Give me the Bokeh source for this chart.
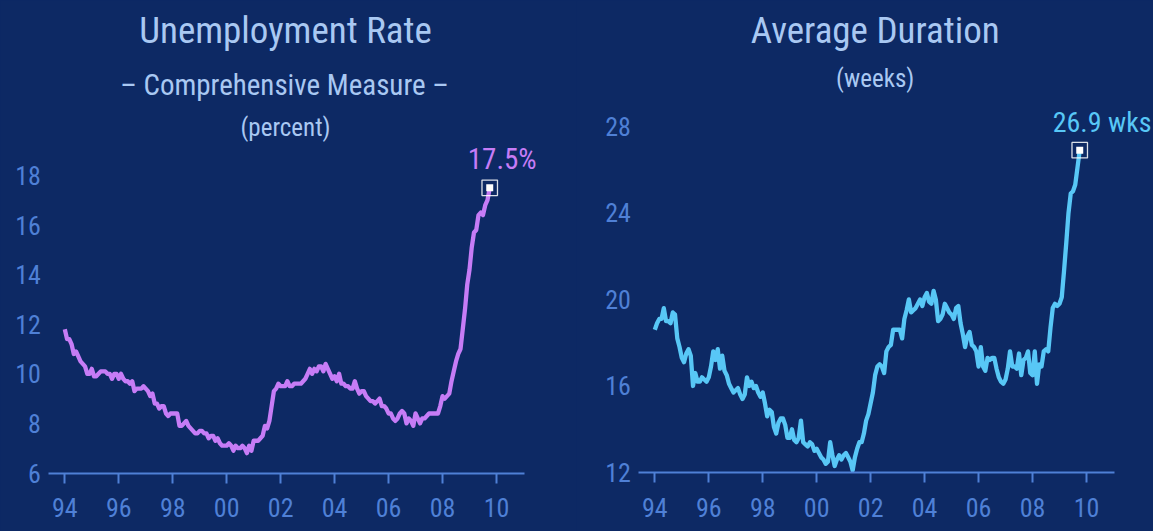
import pandas as pd
from bokeh.plotting import figure
from bokeh.layouts import row
from bokeh.models import Range1d, FixedTicker, Label, GlobalInlineStyleSheet
from bokeh.embed import file_html
from bokeh.resources import INLINE

# ---------------- data (monthly, Jan 1994 - Oct 2009) ----------------
start_month = "1994-01"

u6_rate = [
    11.8, 11.4, 11.4, 11.2, 10.8, 10.9, 10.7, 10.5, 10.4, 10.3, 10.0, 10.0,
    10.2, 9.9, 9.9, 10.0, 10.1, 10.1, 10.1, 10.0, 10.0, 9.8, 10.0, 10.0,
    9.8, 10.0, 9.8, 9.7, 9.7, 9.6, 9.7, 9.3, 9.4, 9.4, 9.4, 9.5,
    9.4, 9.3, 9.1, 9.2, 8.8, 8.8, 8.6, 8.7, 8.7, 8.4, 8.3, 8.4,
    8.4, 8.4, 8.4, 7.9, 7.9, 8.0, 8.1, 7.9, 7.8, 7.7, 7.6, 7.6,
    7.7, 7.7, 7.6, 7.6, 7.4, 7.5, 7.5, 7.3, 7.4, 7.2, 7.1, 7.1,
    7.1, 7.2, 7.1, 6.9, 7.1, 7.0, 7.0, 7.1, 7.0, 6.8, 7.1, 6.9,
    7.3, 7.3, 7.3, 7.4, 7.5, 7.9, 7.8, 8.1, 8.7, 9.3, 9.4, 9.6,
    9.5, 9.5, 9.5, 9.7, 9.5, 9.5, 9.6, 9.6, 9.6, 9.6, 9.7, 9.8,
    10.0, 10.2, 10.0, 10.2, 10.1, 10.3, 10.3, 10.1, 10.4, 10.2, 10.0, 9.8,
    9.9, 9.7, 10.0, 9.6, 9.6, 9.5, 9.5, 9.4, 9.4, 9.7, 9.4, 9.2,
    9.3, 9.3, 9.1, 9.0, 8.9, 8.9, 8.8, 8.9, 9.0, 8.7, 8.7, 8.6,
    8.4, 8.4, 8.2, 8.1, 8.2, 8.4, 8.5, 8.4, 8.0, 8.2, 8.1, 7.9,
    8.4, 8.2, 8.0, 8.2, 8.2, 8.3, 8.4, 8.4, 8.4, 8.4, 8.4, 8.7,
    9.1, 9.0, 9.1, 9.2, 9.7, 10.1, 10.5, 10.8, 11.0, 11.8, 12.6, 13.6,
    14.2, 15.1, 15.7, 15.8, 16.4, 16.5, 16.4, 16.8, 17.0, 17.5,
]

avg_duration = [
    18.6, 18.9, 19.1, 19.1, 19.6, 19.0, 19.0, 18.9, 19.4, 19.3, 18.2, 17.8,
    17.3, 17.1, 17.5, 17.7, 17.4, 16.0, 16.6, 16.2, 16.2, 16.4, 16.3, 16.2,
    16.4, 16.9, 17.6, 17.2, 17.7, 16.8, 17.4, 16.7, 16.5, 16.1, 15.9, 15.7,
    15.8, 15.9, 15.6, 15.4, 15.6, 16.4, 16.0, 16.2, 15.9, 16.0, 15.7, 15.5,
    15.7, 15.2, 14.6, 14.9, 14.8, 14.1, 13.8, 14.3, 14.5, 14.5, 14.2, 13.6,
    13.6, 14.0, 13.5, 13.4, 13.6, 14.4, 13.4, 13.3, 13.2, 13.4, 13.3, 13.0,
    13.1, 12.9, 12.7, 12.6, 12.4, 12.5, 13.4, 12.8, 12.3, 12.6, 12.8, 12.6,
    12.8, 12.9, 12.7, 12.5, 12.1, 12.7, 13.1, 13.4, 13.4, 13.8, 14.4, 14.7,
    15.2, 15.7, 16.5, 16.9, 17.0, 16.9, 16.6, 17.6, 17.8, 17.9, 18.6, 18.6,
    18.6, 18.6, 18.2, 19.1, 19.5, 20.0, 19.4, 19.5, 19.6, 19.8, 20.0, 19.7,
    20.1, 20.3, 19.9, 19.8, 20.4, 20.0, 19.0, 19.1, 19.3, 19.8, 19.6, 19.4,
    19.3, 19.1, 19.6, 19.7, 18.9, 18.4, 17.8, 18.3, 18.5, 17.9, 17.8, 17.6,
    16.9, 17.8, 16.9, 16.7, 17.3, 17.2, 17.3, 17.3, 16.8, 16.4, 16.2, 16.1,
    16.3, 16.8, 17.6, 16.9, 16.9, 16.8, 17.5, 16.5, 17.2, 17.3, 17.6, 16.6,
    16.5, 17.6, 16.1, 17.0, 16.9, 17.6, 17.7, 17.6, 18.7, 19.6, 19.8, 19.7,
    19.8, 20.1, 21.3, 22.6, 24.0, 24.9, 25.0, 25.3, 26.1, 26.9,
]

tick_years = [1994, 1996, 1998, 2000, 2002, 2004, 2006, 2008, 2010]
tick_labels = ["94", "96", "98", "00", "02", "04", "06", "08", "10"]
u6_yticks = [6, 8, 10, 12, 14, 16, 18]
dur_yticks = [12, 16, 20, 24, 28]

# ---------------- style ----------------
FONT = "'Liberation Sans Narrow', 'Roboto Condensed', 'Roboto', sans-serif"
BG = "#0d2964"
TITLE_C = "#a9c8f2"
AXIS_C = "#4f80d6"
VIOLET = "#c67cf6"
CYAN = "#58c7f6"

AXIS_START, AXIS_END = 1993.407, 2011.04
PX_PER_YEAR = 26.98
FIG_H = 531
BASE_SHIFT = 0.34     # alphabetic baseline correction (fraction of font size)

dates = pd.date_range(start_month, periods=len(u6_rate), freq="MS")
xs = [d.year + (d.month - 1) / 12.0 for d in dates]


def panel(width, axis_left_px, y_base, axis_y_px, px_per_unit, yticks, ys, color,
          titles, value_text, value_dx, value_dy, value_size):
    x_lo = AXIS_START - axis_left_px / PX_PER_YEAR
    x_hi = x_lo + width / PX_PER_YEAR
    y_lo = y_base - (FIG_H - axis_y_px) / px_per_unit
    y_hi = y_lo + FIG_H / px_per_unit
    p = figure(width=width, height=FIG_H, output_backend="svg", toolbar_location=None,
               x_range=Range1d(x_lo, x_hi), y_range=Range1d(y_lo, y_hi),
               min_border=0)
    p.background_fill_color = BG
    p.border_fill_color = BG
    p.outline_line_color = None
    p.grid.visible = False

    xa = p.xaxis[0]
    xa.fixed_location = y_base
    xa.bounds = (AXIS_START, AXIS_END)
    xa.ticker = FixedTicker(ticks=tick_years)
    xa.major_label_overrides = {t: l for t, l in zip(tick_years, tick_labels)}
    xa.axis_line_color = AXIS_C
    xa.axis_line_width = 2
    xa.major_tick_line_color = AXIS_C
    xa.major_tick_line_width = 2
    xa.major_tick_in = 0
    xa.major_tick_out = 10
    xa.minor_tick_line_color = None
    xa.major_label_text_color = AXIS_C
    xa.major_label_text_font = FONT
    xa.major_label_text_font_size = "26px"
    xa.major_label_standoff = 15

    ya = p.yaxis[0]
    ya.fixed_location = AXIS_START
    ya.ticker = FixedTicker(ticks=yticks)
    ya.axis_line_color = None
    ya.major_tick_line_color = None
    ya.minor_tick_line_color = None
    ya.major_label_text_color = AXIS_C
    ya.major_label_text_font = FONT
    ya.major_label_text_font_size = "26px"
    ya.major_label_standoff = 2

    p.line(xs, ys, line_color=color, line_width=4.3, line_join="round")
    p.scatter([xs[-1]], [ys[-1]], marker="square", size=15.5, fill_color=None,
              line_color="white", line_width=1.3, line_alpha=0.85)
    p.scatter([xs[-1]], [ys[-1]], marker="square", size=7, fill_color="white",
              line_color=None)
    p.add_layout(Label(x=xs[-1], y=ys[-1], text=value_text, x_offset=value_dx,
                       y_offset=value_dy + BASE_SHIFT * value_size,
                       text_align="center", text_baseline="alphabetic",
                       text_color=color, text_font=FONT,
                       text_font_size=f"{value_size}px"))

    for text, size, cx, baseline in titles:
        p.add_layout(Label(x=cx, y=FIG_H - baseline + BASE_SHIFT * size,
                           x_units="screen", y_units="screen", text=text,
                           text_align="center", text_baseline="alphabetic",
                           text_color=TITLE_C, text_font=FONT,
                           text_font_size=f"{size}px"))
    return p


# titles: (text, font px, centre x from figure left, baseline y from top)
left = panel(576, 48.3, 6, 472.5, 24.8, u6_yticks, u6_rate, VIOLET,
             [("Unemployment Rate", 37, 285, 43),
              ("\u2013 Comprehensive Measure \u2013", 29, 284, 94),
              ("(percent)", 25, 285, 135)],
             f"{u6_rate[-1]}%", 12.5, 19, 29)

right = panel(577, 62.3, 12, 472, 21.63, dur_yticks, avg_duration, CYAN,
              [("Average Duration", 37, 298.7, 43),
               ("(weeks)", 25, 298.7, 86)],
              f"{avg_duration[-1]} wks", 22.4, 18.3, 28)

layout = row(left, right, stylesheets=[GlobalInlineStyleSheet(
    css="html, body { background-color: #0d2964; }")])

open("out.html", "w").write(file_html(layout, INLINE))
